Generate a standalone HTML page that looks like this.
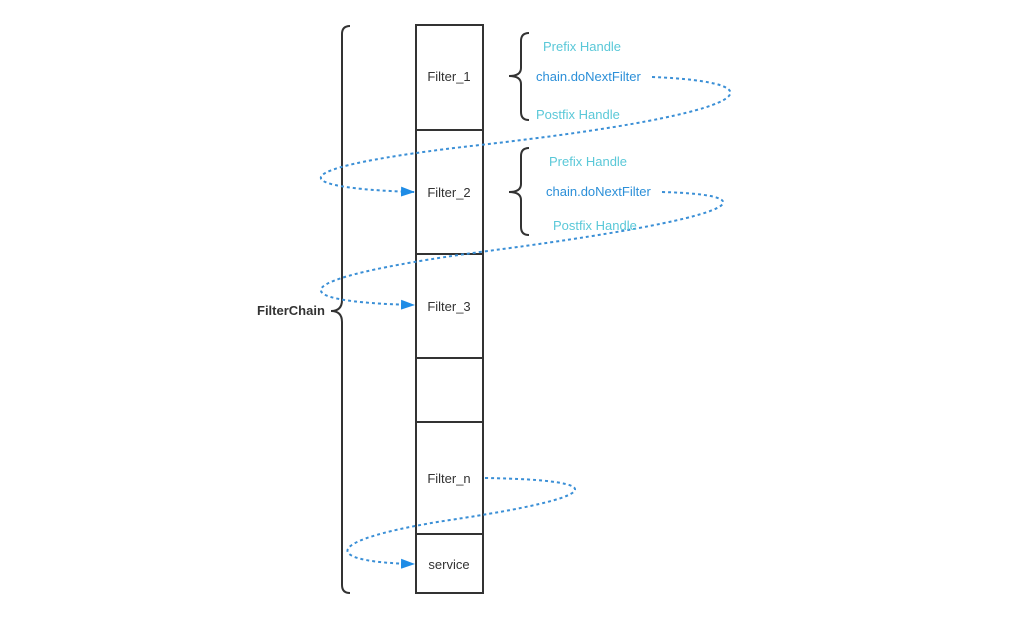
<!DOCTYPE html>
<html><head><meta charset="utf-8"><style>
html,body{margin:0;padding:0;background:#fff;width:1033px;height:619px;overflow:hidden}
svg{display:block}
text{font-family:"Liberation Sans",sans-serif;font-size:13px}
</style></head><body>
<svg width="1033" height="619" viewBox="0 0 1033 619">
<defs><marker id="a" markerWidth="14" markerHeight="10" refX="13" refY="5" orient="auto" markerUnits="userSpaceOnUse"><path d="M0,0 L14,5 L0,10 z" fill="#1f8ce6"/></marker></defs>
<g fill="none" stroke="#333" stroke-width="2">
<rect x="416" y="25" width="67" height="568"/>
<line x1="416" y1="130" x2="483" y2="130"/>
<line x1="416" y1="254" x2="483" y2="254"/>
<line x1="416" y1="358" x2="483" y2="358"/>
<line x1="416" y1="422" x2="483" y2="422"/>
<line x1="416" y1="534" x2="483" y2="534"/>
<path d="M350,26 Q342,26 342,34 L342,300 Q342,311 331,311 Q342,311 342,322 L342,585 Q342,593 350,593"/>
<path d="M529,33 Q521,33 521,41 L521,68 Q521,76 509,76 Q521,76 521,84 L521,112 Q521,120 529,120"/>
<path d="M529,148 Q521,148 521,156 L521,184 Q521,192 509,192 Q521,192 521,200 L521,227 Q521,235 529,235"/>
</g>
<g fill="none" stroke="#3a8fd6" stroke-width="2" stroke-dasharray="3,3">
<path d="M652,77 C780,82 770,112 480,145 C275,168 285,188 414,192" marker-end="url(#a)"/>
<path d="M662,192 C770,195 750,217 480,252 C275,280 285,302 414,305" marker-end="url(#a)"/>
<path d="M485,478 C615,480 605,497 450,520 C320,540 320,562 414,564" marker-end="url(#a)"/>
</g>
<g fill="#333" text-anchor="middle">
<text x="449" y="81">Filter_1</text>
<text x="449" y="197">Filter_2</text>
<text x="449" y="311">Filter_3</text>
<text x="449" y="483">Filter_n</text>
<text x="449" y="569">service</text>
</g>
<text x="257" y="315" fill="#333" font-weight="bold">FilterChain</text>
<g>
<text x="543" y="51" fill="#5ac8d8">Prefix Handle</text>
<text x="536" y="81" fill="#2b8fd8">chain.doNextFilter</text>
<text x="536" y="119" fill="#5ac8d8">Postfix Handle</text>
<text x="549" y="166" fill="#5ac8d8">Prefix Handle</text>
<text x="546" y="196" fill="#2b8fd8">chain.doNextFilter</text>
<text x="553" y="230" fill="#5ac8d8">Postfix Handle</text>
</g>
</svg>
</body></html>
